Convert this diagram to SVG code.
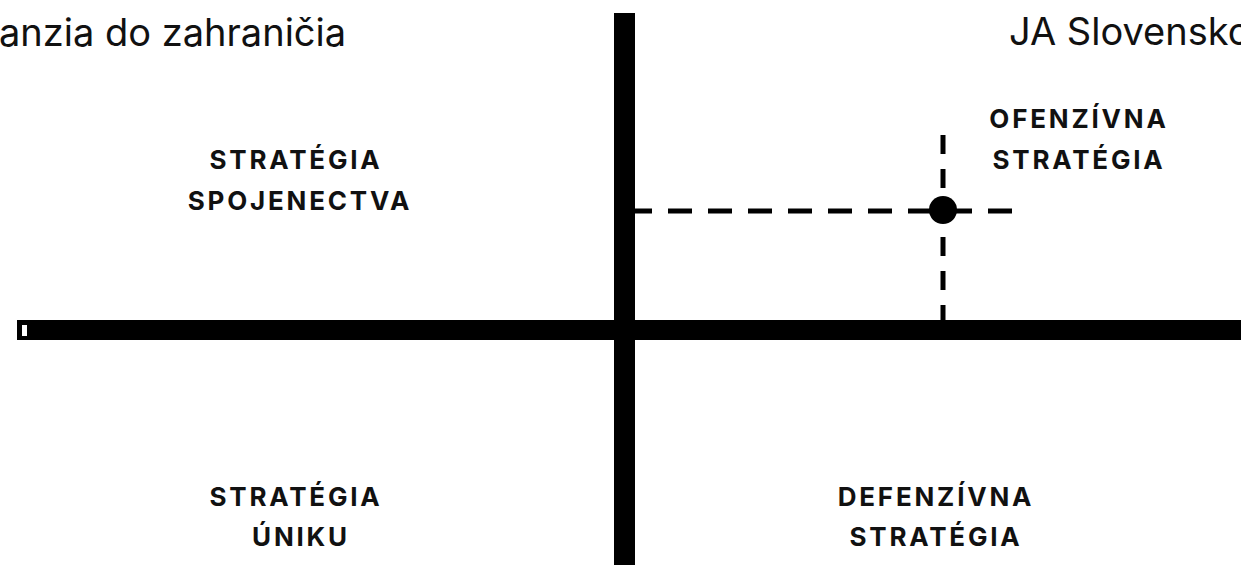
<svg xmlns="http://www.w3.org/2000/svg" width="1241" height="565" viewBox="0 0 1241 565">
  <style>
    .header { font-family: Inter, "Liberation Sans", sans-serif; font-size: 38px; font-weight: 400; fill: #111; }
    .label { font-family: Inter, "Liberation Sans", sans-serif; font-size: 26px; font-weight: 700; letter-spacing: 2.8px; fill: #111; text-anchor: middle; }
    .axis { fill: #000; }
    .guide { stroke: #000; stroke-width: 5; fill: none; }
  </style>
  <rect width="1241" height="565" fill="#fff"/>

  <!-- page header texts -->
  <text class="header" x="-1" y="46">anzia do zahraničia</text>
  <text class="header" x="1009" y="45">JA Slovensko</text>

  <!-- axes and guide lines -->
  <g id="connectors">
    <rect class="axis" x="614" y="13" width="21" height="552"/>
    <rect class="axis" x="17" y="320" width="1224" height="20"/>
    <rect x="22" y="325" width="5" height="11" fill="#fff"/>
    <path class="guide" d="M1012 211 H635" stroke-dasharray="24 16"/>
    <path class="guide" d="M943 135 V320" stroke-dasharray="19 15"/>
  </g>

  <g id="point">
    <circle cx="943" cy="210" r="14" fill="#000"/>
  </g>

  <!-- quadrant labels -->
  <g id="alliance">
    <text class="label" x="296" y="169">STRATÉGIA</text>
    <text class="label" x="300" y="210">SPOJENECTVA</text>
  </g>
  <g id="offensive">
    <text class="label" x="1079" y="128">OFENZÍVNA</text>
    <text class="label" x="1079" y="169">STRATÉGIA</text>
  </g>
  <g id="escape">
    <text class="label" x="296" y="506">STRATÉGIA</text>
    <text class="label" x="301" y="546">ÚNIKU</text>
  </g>
  <g id="defensive">
    <text class="label" x="936" y="506">DEFENZÍVNA</text>
    <text class="label" x="936" y="546">STRATÉGIA</text>
  </g>
</svg>
